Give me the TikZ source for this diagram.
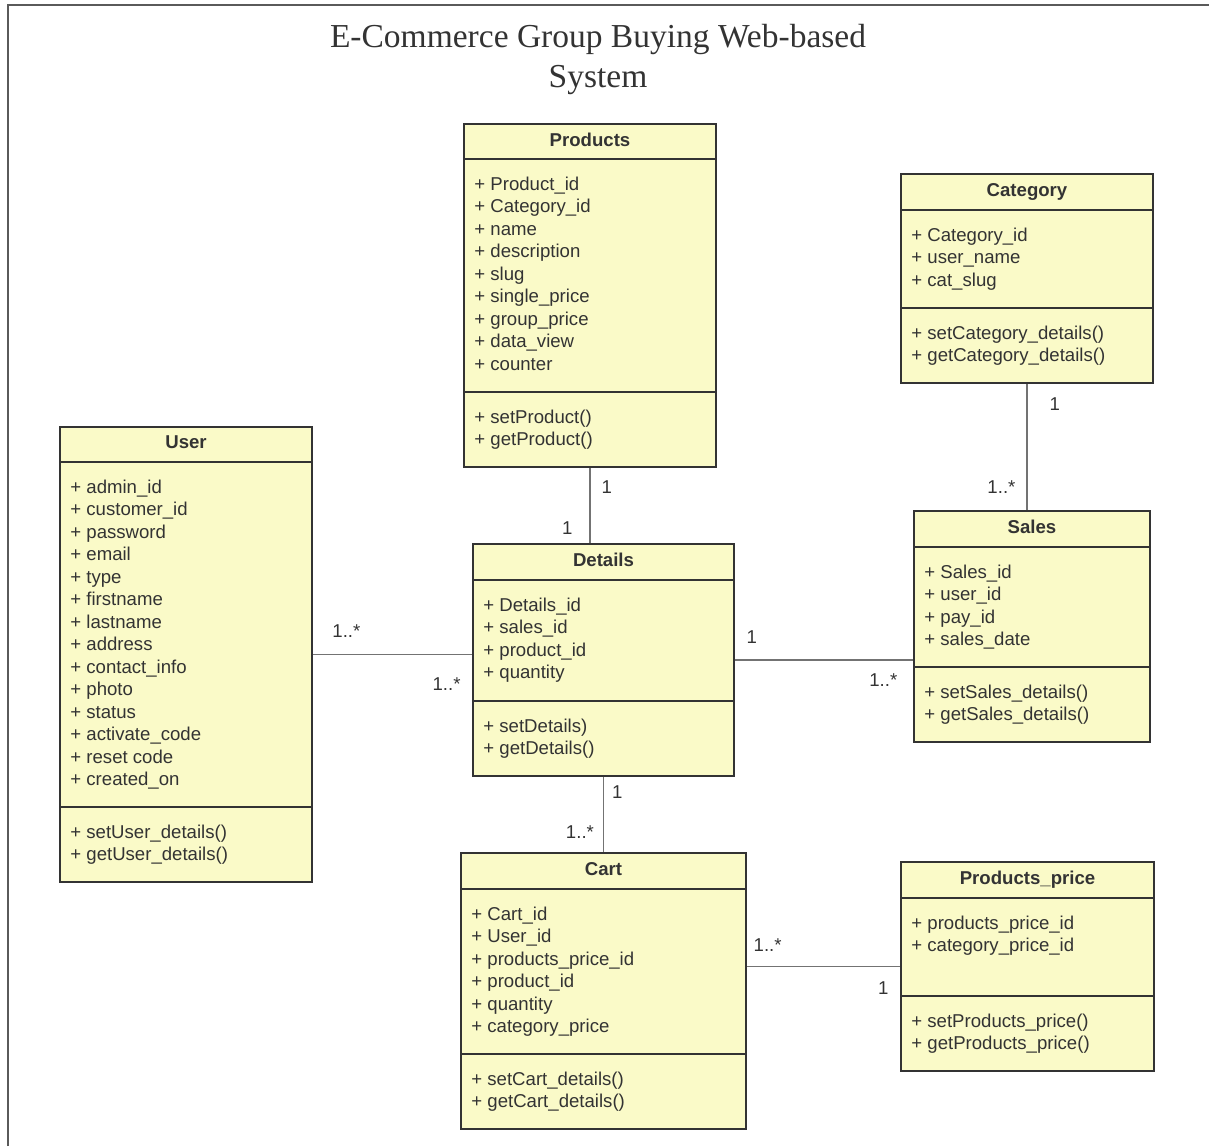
\documentclass[tikz,border=0pt]{standalone}
\usepackage{fontspec}
\setmainfont{Liberation Serif}
\setsansfont{Liberation Sans}
\usetikzlibrary{fit,positioning}
\definecolor{classfill}{RGB}{250,250,200}
\definecolor{classline}{RGB}{51,51,51}
\definecolor{classtext}{RGB}{51,51,51}
\definecolor{assocline}{RGB}{115,115,115}
\definecolor{framegray}{RGB}{90,90,90}

\begin{document}
\begin{tikzpicture}[
    x=0.5pt, y=-0.5pt,
    classbox/.style={draw=classline, fill=classfill, line width=1pt, inner sep=0pt},
    sep/.style={draw=classline, line width=1pt},
    classname/.style={font=\sffamily\bfseries\fontsize{9.3}{11.25}\selectfont, text=classtext, anchor=base, inner sep=0pt},
    member/.style={font=\sffamily\fontsize{9.3}{11.25}\selectfont, text=classtext, anchor=base west, inner sep=0pt},
    assoc/.style={draw=assocline, line width=0.6pt},
    mult/.style={font=\sffamily\fontsize{9.3}{11.25}\selectfont, text=classtext, inner sep=0pt}
]
\useasboundingbox (0,0) rectangle (1209,1146);

% frame
\draw[framegray, line width=0.75pt] (8,1146) -- (8,5) -- (1209,5);

% title
\node[font=\fontsize{16.75}{20}\selectfont, text=classtext, anchor=base] (title1) at (598,47) {E-Commerce Group Buying Web-based};
\node[font=\fontsize{16.75}{20}\selectfont, text=classtext, anchor=base] (title2) at (598,87) {System};

% Products
\node[classbox, fit={(464,124) (716,467)}] (products) {};
\draw[sep] (464,159) -- (716,159);
\draw[sep] (464,392) -- (716,392);
\node[classname] (products-t) at (590,146) {Products};
\foreach \a [count=\i from 0] in {Product\_id, Category\_id, name, description, slug, single\_price, group\_price, data\_view, counter}
    \node[member] (products-a\i) at (474,190+22.5*\i) {+ \a};
\foreach \m [count=\i from 0] in {setProduct(), getProduct()}
    \node[member] (products-m\i) at (474,423+22.5*\i) {+ \m};

% Category
\node[classbox, fit={(901,174) (1153,383)}] (category) {};
\draw[sep] (901,210) -- (1153,210);
\draw[sep] (901,308) -- (1153,308);
\node[classname] (category-t) at (1027,196) {Category};
\foreach \a [count=\i from 0] in {Category\_id, user\_name, cat\_slug}
    \node[member] (category-a\i) at (911,241+22.5*\i) {+ \a};
\foreach \m [count=\i from 0] in {setCategory\_details(), getCategory\_details()}
    \node[member] (category-m\i) at (911,339+22.5*\i) {+ \m};

% User
\node[classbox, fit={(60,427) (312,882)}] (user) {};
\draw[sep] (60,462) -- (312,462);
\draw[sep] (60,807) -- (312,807);
\node[classname] (user-t) at (186,448) {User};
\foreach \a [count=\i from 0] in {admin\_id, customer\_id, password, email, type, firstname, lastname, address, contact\_info, photo, status, activate\_code, reset code, created\_on}
    \node[member] (user-a\i) at (70,493+22.5*\i) {+ \a};
\foreach \m [count=\i from 0] in {setUser\_details(), getUser\_details()}
    \node[member] (user-m\i) at (70,838+22.5*\i) {+ \m};

% Details
\node[classbox, fit={(473,544) (734,776)}] (details) {};
\draw[sep] (473,580) -- (734,580);
\draw[sep] (473,701) -- (734,701);
\node[classname] (details-t) at (603.5,566) {Details};
\foreach \a [count=\i from 0] in {Details\_id, sales\_id, product\_id, quantity}
    \node[member] (details-a\i) at (483,611+22.5*\i) {+ \a};
\foreach \m [count=\i from 0] in {setDetails), getDetails()}
    \node[member] (details-m\i) at (483,732+22.5*\i) {+ \m};

% Sales
\node[classbox, fit={(914,511) (1150,742)}] (sales) {};
\draw[sep] (914,547) -- (1150,547);
\draw[sep] (914,667) -- (1150,667);
\node[classname] (sales-t) at (1032,533) {Sales};
\foreach \a [count=\i from 0] in {Sales\_id, user\_id, pay\_id, sales\_date}
    \node[member] (sales-a\i) at (924,578+22.5*\i) {+ \a};
\foreach \m [count=\i from 0] in {setSales\_details(), getSales\_details()}
    \node[member] (sales-m\i) at (924,698+22.5*\i) {+ \m};

% Cart
\node[classbox, fit={(461,853) (746,1129)}] (cart) {};
\draw[sep] (461,889) -- (746,889);
\draw[sep] (461,1054) -- (746,1054);
\node[classname] (cart-t) at (603.5,875) {Cart};
\foreach \a [count=\i from 0] in {Cart\_id, User\_id, products\_price\_id, product\_id, quantity, category\_price}
    \node[member] (cart-a\i) at (471,920+22.5*\i) {+ \a};
\foreach \m [count=\i from 0] in {setCart\_details(), getCart\_details()}
    \node[member] (cart-m\i) at (471,1085+22.5*\i) {+ \m};

% Products_price
\node[classbox, fit={(901,862) (1154,1071)}] (pprice) {};
\draw[sep] (901,898) -- (1154,898);
\draw[sep] (901,996) -- (1154,996);
\node[classname] (pprice-t) at (1027.5,884) {Products\_price};
\foreach \a [count=\i from 0] in {products\_price\_id, category\_price\_id}
    \node[member] (pprice-a\i) at (911,929+22.5*\i) {+ \a};
\foreach \m [count=\i from 0] in {setProducts\_price(), getProducts\_price()}
    \node[member] (pprice-m\i) at (911,1027+22.5*\i) {+ \m};

% associations
\draw[assoc] (products.south) -- (products.south |- details.north)
    node[mult, pos=0.26, right=5.5pt] (pd1) {1}
    node[mult, pos=0.8, left=8.5pt] (pd2) {1};
\draw[assoc] (category.south) -- (category.south |- sales.north)
    node[mult, pos=0.16, right=11pt] (cs1) {1}
    node[mult, pos=0.82, left=5.5pt] (cs2) {1..*};
\draw[assoc] (user.east) -- (user.east -| details.west)
    node[mult, pos=0.21, above=8pt] (ud1) {1..*}
    node[mult, pos=0.84, below=11.5pt] (ud2) {1..*};
\draw[assoc] (details.east) -- (details.east -| sales.west)
    node[mult, pos=0.094, above=8pt] (ds1) {1}
    node[mult, pos=0.833, below=6.5pt] (ds2) {1..*};
\draw[assoc] (details.south) -- (cart.north)
    node[mult, pos=0.195, right=4pt] (dc1) {1}
    node[mult, pos=0.73, left=4.5pt] (dc2) {1..*};
\draw[assoc] (pprice.west -| cart.east) -- (pprice.west)
    node[mult, pos=0.135, above=7pt] (cp1) {1..*}
    node[mult, pos=0.89, below=7.5pt] (cp2) {1};

\end{tikzpicture}
\end{document}
